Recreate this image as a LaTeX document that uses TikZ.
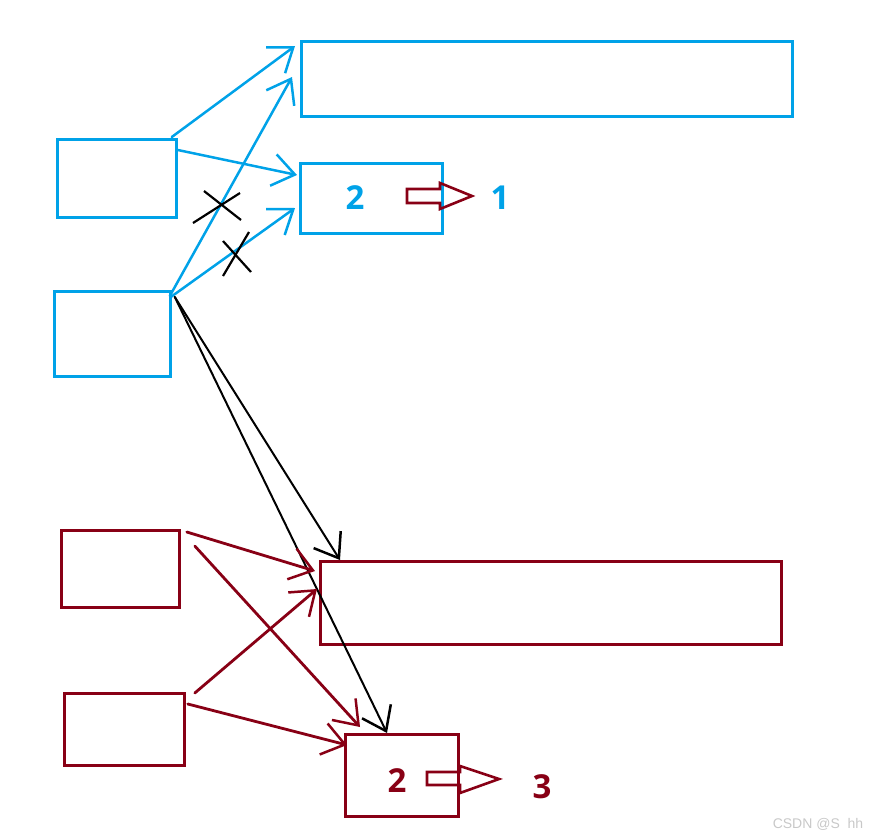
\documentclass[tikz,border=0pt]{standalone}
\usepackage{fontspec}
\setmainfont{Open Sans}
\newfontfamily\wmfont{Liberation Sans}
\usetikzlibrary{arrows.meta}
\definecolor{pblue}{RGB}{0,162,232}
\definecolor{pred}{RGB}{136,0,21}
\definecolor{wmgray}{RGB}{200,200,200}
\begin{document}
\begin{tikzpicture}[x=1pt,y=-1pt,
  box/.style={draw,line width=2.8pt,inner sep=0pt,anchor=north west},
  bluebox/.style={box,draw=pblue},
  redbox/.style={box,draw=pred},
  vtip/.style={-{Straight Barb[length=22pt,width=32pt,line width=2.5pt]},line cap=round},
  blueline/.style={vtip,draw=pblue,line width=2.5pt},
  redline/.style={vtip,draw=pred,line width=2.8pt},
  blackline/.style={vtip,draw=black,line width=2pt},
  xmark/.style={draw=black,line width=2.2pt},
  digit/.style={font=\fontsize{33}{33}\selectfont\bfseries},
  block/.style={draw=pred,line width=2.6pt,line join=miter}
]
\useasboundingbox (0,0) rectangle (873,839);
% blue boxes
\node[bluebox,minimum width=119pt,minimum height=78pt] (A) at (56,138) {};
\node[bluebox,minimum width=116pt,minimum height=85pt] (B) at (53,290) {};
\node[bluebox,minimum width=491pt,minimum height=75pt] (C) at (300,40) {};
\node[bluebox,minimum width=142pt,minimum height=70pt] (D) at (299,162) {};
% red boxes
\node[redbox,minimum width=118pt,minimum height=77pt] (E) at (60,529) {};
\node[redbox,minimum width=120pt,minimum height=72pt] (F) at (63,692) {};
\node[redbox,minimum width=461pt,minimum height=83pt] (G) at (319,560) {};
\node[redbox,minimum width=113pt,minimum height=82pt] (H) at (344,733) {};
% texts
\node[digit,text=pblue] (d2) at (355,198) {2};
\node[digit,text=pblue] (d1) at (500,198) {1};
\node[digit,text=pred] (r2) at (397,781) {2};
\node[digit,text=pred] (r3) at (542,787) {3};
\node[text=wmgray,font=\wmfont\fontsize{14}{15}\selectfont] (wm) at (818,824) {CSDN @S~~hh};
% block arrows
\draw[block] (407,189) -- (440,189) -- (440,183) -- (472,196) -- (440,209) -- (440,203) -- (407,203) -- cycle;
\draw[block] (427,772) -- (460,772) -- (460,766) -- (499,779) -- (460,793) -- (460,785) -- (427,785) -- cycle;
% blue connectors
\draw[blueline] ([shift={(-6,-1)}]A.north east) -- ([shift={(-5,6)}]C.north west);
\draw[blueline] ([shift={(0,12)}]A.north east) -- ([shift={(-2,13)}]D.north west);
\draw[blueline] ([shift={(-2,6)}]B.north east) -- ([shift={(-8,37)}]C.north west);
\draw[blueline] ([shift={(-1,7)}]B.north east) -- ([shift={(-4,46)}]D.north west);
% crosses
\coordinate (x1a) at (204,191); \coordinate (x1b) at (241,220);
\coordinate (x1c) at (240,193); \coordinate (x1d) at (193,223);
\coordinate (x2a) at (223,241); \coordinate (x2b) at (251,272);
\coordinate (x2c) at (249,232); \coordinate (x2d) at (223,276);
\draw[xmark] (x1a) -- (x1b);
\draw[xmark] (x1c) -- (x1d);
\draw[xmark] (x2a) -- (x2b);
\draw[xmark] (x2c) -- (x2d);
% black connectors
\draw[blackline] ([shift={(3,7)}]B.north east) -- ([shift={(21,0)}]G.north west);
\draw[blackline] ([shift={(3,7)}]B.north east) -- ([shift={(43,0)}]H.north west);
% red connectors
\draw[redline] ([shift={(6,3)}]E.north east) -- ([shift={(-4,11)}]G.north west);
\draw[redline] ([shift={(14,17)}]E.north east) -- ([shift={(16,-6)}]H.north west);
\draw[redline] ([shift={(9,1)}]F.north east) -- ([shift={(-2,29)}]G.north west);
\draw[redline] ([shift={(2,12)}]F.north east) -- ([shift={(3,12)}]H.north west);
\end{tikzpicture}
\end{document}
